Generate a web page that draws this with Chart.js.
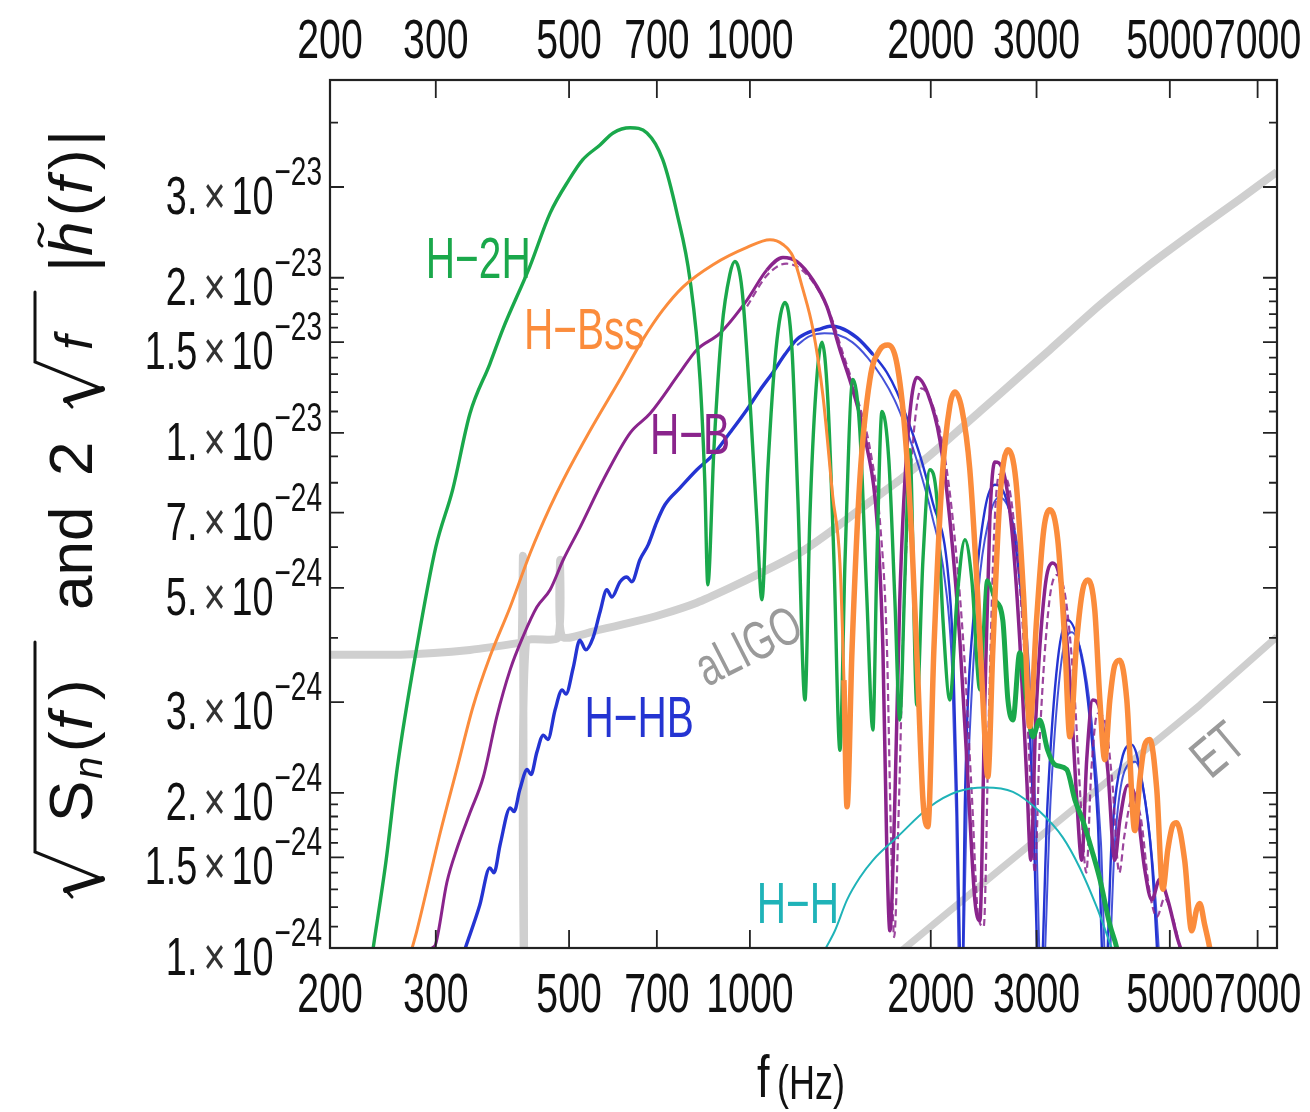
<!DOCTYPE html>
<html>
<head>
<meta charset="utf-8">
<title>GW spectra vs aLIGO / ET</title>
<script src="https://cdn.jsdelivr.net/npm/chart.js@4.4.1/dist/chart.umd.min.js"></script>
<style>
  html, body { margin: 0; padding: 0; background: #fff; }
  #wrap { width: 1310px; height: 1112px; position: relative; }
</style>
</head>
<body>
<div id="wrap"><canvas id="myChart"></canvas></div>
<script>
// axis ticks
var xTicks = [200, 300, 500, 700, 1000, 2000, 3000, 5000, 7000];
var yTicks = [1e-24, 1.5e-24, 2e-24, 3e-24, 5e-24, 7e-24, 1e-23, 1.5e-23, 2e-23, 3e-23];
var yTickMant = ['1.', '1.5', '2.', '3.', '5.', '7.', '1.', '1.5', '2.', '3.'];
var yTickExp = ['\u221224', '\u221224', '\u221224', '\u221224', '\u221224', '\u221224', '\u221223', '\u221223', '\u221223', '\u221223'];
var yMinor = [1.1e-24, 1.2e-24, 1.3e-24, 1.4e-24, 1.6e-24, 1.7e-24, 1.8e-24, 1.9e-24, 4e-24, 6e-24, 8e-24, 9e-24,
              1.1e-23, 1.2e-23, 1.3e-23, 1.4e-23, 1.6e-23, 1.7e-23, 1.8e-23, 1.9e-23, 4e-23];

// [f (Hz), 2 sqrt(f) |h(f)|]
var h2h = [[236,1.0e-24],[248,1.48e-24],[259,2.25e-24],[279,3.84e-24],[300,6.0e-24],[320,7.75e-24],[342,1.09e-23],[369,1.36e-23],[388,1.59e-23],[430,2.10e-23],
  [465,2.67e-23],[500,3.10e-23],[527,3.39e-23],[563,3.62e-23],[592,3.82e-23],[632,3.91e-23],[674,3.82e-23],[716,3.39e-23],[756,2.67e-23],[795,1.98e-23],
  [826,1.27e-23],[841,8.1e-24],[851,5.07e-24],[871,9.27e-24],[898,1.59e-23],[926,2.03e-23],[944,2.15e-23],[970,1.90e-23],[1000,1.16e-23],[1027,6.78e-24],
  [1047,4.74e-24],[1071,8.48e-24],[1105,1.45e-23],[1144,1.79e-23],[1175,1.45e-23],[1202,7.41e-24],[1235,3.03e-24],[1258,6.78e-24],[1288,1.21e-23],[1318,1.50e-23],
  [1348,1.16e-23],[1380,5.67e-24],[1412,2.42e-24],[1440,5.67e-24],[1484,1.27e-23],[1524,1.01e-23],[1566,4.74e-24],[1602,2.65e-24],[1627,5.67e-24],[1659,1.10e-23],
  [1703,8.86e-24],[1743,4.74e-24],[1776,2.77e-24],[1811,5.18e-24],[1846,9.27e-24],[1896,2.96e-24],[1941,5.67e-24],[1993,8.48e-24],[2048,7.41e-24],[2096,4.33e-24],
  [2152,3.03e-24],[2211,4.74e-24],[2280,6.20e-24],[2341,5.18e-24],[2414,3.17e-24],[2480,5.18e-24],[2557,4.74e-24],[2636,4.33e-24],[2688,3.03e-24],[2740,2.77e-24],
  [2813,3.74e-24],[2890,3.03e-24],[2957,2.57e-24],[3037,2.77e-24],[3131,2.42e-24],[3217,2.27e-24],[3368,2.22e-24],[3474,1.94e-24],[3581,1.77e-24],[3707,1.55e-24],
  [3824,1.36e-24],[3973,1.11e-24],[4080,1.0e-24],[4207,8.3e-25]];

var hbss = [[274,1.0e-24],[279,1.08e-24],[305,1.67e-24],[326,2.25e-24],[346,2.94e-24],[369,3.67e-24],[399,4.59e-24],[431,5.85e-24],[465,7.18e-24],[489,8.1e-24],
  [542,1.01e-23],[608,1.27e-23],[664,1.52e-23],[716,1.73e-23],[774,1.92e-23],[868,2.12e-23],[989,2.29e-23],[1080,2.37e-23],[1135,2.32e-23],[1179,2.20e-23],
  [1225,1.90e-23],[1273,1.59e-23],[1323,1.18e-23],[1374,7.51e-24],[1412,5.59e-24],[1434,3.31e-24],[1451,1.88e-24],[1479,3.79e-24],[1524,8.1e-24],[1584,1.27e-23],
  [1646,1.45e-23],[1697,1.48e-23],[1757,1.36e-23],[1811,1.01e-23],[1860,6.2e-24],[1904,3.31e-24],[1941,1.94e-24],[1978,1.72e-24],[2024,3.79e-24],[2088,8.1e-24],
  [2152,1.13e-23],[2194,1.20e-23],[2254,1.11e-23],[2323,8.48e-24],[2396,4.74e-24],[2452,2.77e-24],[2489,2.15e-24],[2537,3.79e-24],[2606,7.41e-24],[2688,9.27e-24],
  [2771,8.1e-24],[2857,4.74e-24],[2923,2.69e-24],[3000,4.33e-24],[3084,6.48e-24],[3158,7.09e-24],[3254,6.2e-24],[3342,3.96e-24],[3409,2.57e-24],[3500,3.96e-24],
  [3581,4.96e-24],[3651,5.18e-24],[3750,4.53e-24],[3824,3.03e-24],[3896,2.32e-24],[3973,3.03e-24],[4049,3.54e-24],[4128,3.62e-24],[4240,3.03e-24],[4372,1.69e-24],
  [4457,2.12e-24],[4542,2.48e-24],[4631,2.54e-24],[4756,2.03e-24],[4867,1.30e-24],[4961,1.55e-24],[5057,1.73e-24],[5133,1.75e-24],[5293,1.48e-24],[5437,1.08e-24],
  [5543,1.19e-24],[5608,1.22e-24],[5714,1.11e-24],[5826,1.0e-24],[5940,8.6e-25]];

var hb = [[296,1.0e-24],[300,1.02e-24],[313,1.34e-24],[326,1.57e-24],[342,1.83e-24],[360,2.15e-24],[379,2.81e-24],[399,3.47e-24],[419,4.02e-24],[442,4.59e-24],
  [465,4.96e-24],[489,5.67e-24],[521,6.54e-24],[570,8.1e-24],[632,1.0e-23],[682,1.09e-23],[765,1.31e-23],[816,1.45e-23],[891,1.56e-23],[989,1.81e-23],
  [1067,2.07e-23],[1135,2.19e-23],[1198,2.15e-23],[1273,1.98e-23],[1343,1.76e-23],[1412,1.45e-23],[1484,1.21e-23],[1566,9.39e-24],[1627,6.78e-24],[1665,3.79e-24],
  [1690,1.55e-24],[1710,1.08e-24],[1743,1.94e-24],[1776,4.74e-24],[1825,9.27e-24],[1896,1.28e-23],[1978,1.19e-23],[2071,9.69e-24],[2152,6.78e-24],[2236,3.96e-24],
  [2306,2.12e-24],[2368,1.24e-24],[2414,1.13e-24],[2461,3.03e-24],[2508,6.78e-24],[2557,8.78e-24],[2636,8.48e-24],[2729,6.48e-24],[2813,3.96e-24],[2890,2.12e-24],
  [2935,1.48e-24],[2991,2.77e-24],[3096,4.96e-24],[3192,5.59e-24],[3304,4.96e-24],[3409,3.31e-24],[3500,1.94e-24],[3567,1.48e-24],[3636,2.32e-24],[3721,3.03e-24],
  [3824,2.90e-24],[3941,2.22e-24],[4049,1.48e-24],[4128,1.77e-24],[4256,2.07e-24],[4389,1.94e-24],[4542,1.42e-24],[4666,1.24e-24],[4811,1.36e-24],[4961,1.24e-24],
  [5153,1.04e-24],[5293,9.5e-25]];
// neighbouring H-B runs (dashed bundle)
var hbAlt = [[989,1.76e-23],[1067,2.02e-23],[1150,2.13e-23],[1215,2.08e-23],[1290,1.92e-23],[1360,1.70e-23],[1430,1.42e-23],[1505,1.18e-23],[1590,9.1e-24],[1650,6.5e-24],
  [1690,3.9e-24],[1718,1.6e-24],[1738,1.05e-24],[1770,1.9e-24],[1805,4.6e-24],[1860,9.0e-24],[1930,1.22e-23],[2010,1.14e-23],[2100,9.3e-24],[2185,6.5e-24],
  [2270,3.8e-24],[2340,2.0e-24],[2400,1.15e-24],[2450,1.1e-24],[2500,2.9e-24],[2550,6.4e-24],[2600,8.3e-24],[2680,8.1e-24],[2770,6.2e-24],[2860,3.8e-24],
  [2935,2.0e-24],[2980,1.4e-24],[3040,2.6e-24],[3150,4.7e-24],[3250,5.3e-24],[3360,4.7e-24],[3470,3.1e-24],[3560,1.85e-24],[3630,1.4e-24],[3700,2.2e-24],
  [3790,2.85e-24],[3900,2.75e-24],[4010,2.1e-24],[4120,1.4e-24],[4200,1.65e-24],[4330,1.95e-24],[4470,1.8e-24],[4620,1.3e-24],[4760,1.15e-24],[4900,1.25e-24],
  [5050,1.15e-24],[5250,9.5e-25]];

var hhb = [[336,1.0e-24],[355,1.21e-24],[369,1.43e-24],[375,1.40e-24],[384,1.59e-24],[399,1.87e-24],[405,1.84e-24],[414,2.03e-24],[426,2.22e-24],[432,2.17e-24],
  [442,2.40e-24],[453,2.59e-24],[461,2.54e-24],[474,2.90e-24],[487,3.17e-24],[494,3.11e-24],[508,3.50e-24],[521,3.96e-24],[533,3.79e-24],[548,4.0e-24],
  [563,4.49e-24],[578,4.96e-24],[589,4.80e-24],[608,5.14e-24],[624,5.25e-24],[636,5.14e-24],[656,5.67e-24],[677,6.06e-24],[700,6.72e-24],[722,7.25e-24],
  [765,7.82e-24],[816,8.48e-24],[868,9.06e-24],[926,1.0e-23],[989,1.11e-23],[1039,1.21e-23],[1092,1.31e-23],[1144,1.42e-23],
  [1198,1.52e-23],[1258,1.57e-23],[1308,1.59e-23],[1359,1.61e-23],[1412,1.60e-23],[1507,1.53e-23],[1602,1.42e-23],[1690,1.31e-23],[1757,1.20e-23],[1825,1.07e-23],
  [1918,9.06e-24],[2016,7.31e-24],[2128,5.59e-24],[2178,3.79e-24],[2211,1.94e-24],[2236,1.0e-24],[2254,7.9e-25],[2280,1.94e-24],[2368,4.74e-24],[2461,7.09e-24],
  [2557,7.93e-24],[2657,7.58e-24],[2761,6.2e-24],[2868,3.96e-24],[2957,1.94e-24],[3037,7.9e-25],[3131,1.94e-24],[3254,3.62e-24],[3381,4.33e-24],[3514,3.96e-24],
  [3651,3.03e-24],[3793,1.77e-24],[3896,7.9e-25],[4002,1.62e-24],[4159,2.32e-24],[4322,2.48e-24],[4490,2.12e-24],[4666,1.48e-24],[4811,7.9e-25]];
// neighbouring H-HB run
var hhbAlt = [[1198,1.48e-23],[1258,1.54e-23],[1330,1.56e-23],[1400,1.55e-23],[1480,1.50e-23],[1570,1.40e-23],[1660,1.28e-23],[1740,1.16e-23],[1820,1.02e-23],[1910,8.6e-24],
  [2010,6.9e-24],[2110,5.2e-24],[2170,3.5e-24],[2205,1.8e-24],[2228,9e-25],[2250,7.9e-25],[2300,2.0e-24],[2400,4.9e-24],[2500,6.8e-24],[2600,7.5e-24],
  [2700,7.1e-24],[2810,5.7e-24],[2910,3.6e-24],[2990,1.8e-24],[3060,7.9e-25],[3170,2.0e-24],[3300,3.6e-24],[3430,4.1e-24],[3570,3.7e-24],[3700,2.8e-24],
  [3840,1.6e-24],[3930,7.9e-25],[4050,1.6e-24],[4200,2.2e-24],[4380,2.3e-24],[4560,1.9e-24],[4720,1.3e-24],[4850,7.9e-25]];

var hh = [[1338,1.0e-24],[1385,1.08e-24],[1451,1.24e-24],[1524,1.37e-24],[1602,1.48e-24],[1757,1.64e-24],[1993,1.88e-24],[2211,2.01e-24],[2461,2.05e-24],
  [2740,2.01e-24],[3037,1.84e-24],[3317,1.64e-24],[3542,1.43e-24],[3779,1.20e-24],[4002,1.0e-24],[4096,9.3e-25]];

// detector noise curves sqrt(Sn)
var aligo = [[200,3.71e-24],[262,3.71e-24],[342,3.79e-24],[414,3.91e-24],[417,3.93e-24],[419,5.74e-24],[421,7.9e-25],[424,3.93e-24],[479,4.0e-24],[483,5.67e-24],
  [487,4.02e-24],[563,4.15e-24],[632,4.28e-24],[708,4.43e-24],[816,4.68e-24],[926,5.0e-24],[1051,5.37e-24],[1211,5.85e-24],[1359,6.42e-24],[1584,7.35e-24],
  [1776,8.1e-24],[2071,9.39e-24],[2414,1.10e-23],[2606,1.19e-23],[3158,1.45e-23],[3824,1.77e-23],[4631,2.12e-23],[5608,2.5e-23],[6536,2.84e-23],[7540,3.21e-23]];
var et = [[1710,9.5e-25],[1811,1.0e-24],[2606,1.42e-24],[3824,2.05e-24],[5608,2.96e-24],[7540,4.02e-24]];

var GREEN = '#1aa84b', ORANGE = '#fb8c3c', PURPLE = '#8a248c', BLUE = '#2434d2', CYAN = '#1fb3b8', GRAY = '#cfcfcf';
var FONT = '"Liberation Sans", Arial, Helvetica, sans-serif';
var SX = 0.7;

var notes = [
  {text: 'H\u22122H', f: 353, h: 2.19e-23, color: GREEN},
  {text: 'H\u2212Bss', f: 530, h: 1.60e-23, color: ORANGE},
  {text: 'H\u2212B', f: 795, h: 1.0e-23, color: PURPLE},
  {text: 'H\u2212HB', f: 654, h: 2.82e-24, color: BLUE},
  {text: 'H\u2212H', f: 1202, h: 1.23e-24, color: CYAN},
  {text: 'aLIGO', f: 992, h: 3.88e-24, color: '#9a9a9a', angle: -27, size: 54},
  {text: 'ET', f: 5984, h: 2.44e-24, color: '#9a9a9a', angle: -40, size: 56}
];

function pts(arr) {
  return arr.map(function (p) { return {x: p[0], y: p[1]}; });
}

function squeezed(ctx, str, x, y, font, align, color, sx) {
  ctx.save();
  ctx.font = font;
  ctx.fillStyle = color || '#111';
  ctx.textAlign = align || 'left';
  ctx.textBaseline = 'alphabetic';
  ctx.translate(x, y);
  ctx.scale(sx || SX, 1);
  ctx.fillText(str, 0, 0);
  ctx.restore();
}
function squeezedWidth(ctx, str, font, sx) {
  ctx.save();
  ctx.font = font;
  var w = ctx.measureText(str).width;
  ctx.restore();
  return w * (sx || SX);
}

function drawYTitle(ctx) {
  var R = '62px ' + FONT, I = 'italic 62px ' + FONT;
  ctx.save();
  ctx.translate(92, 0);
  ctx.rotate(-Math.PI / 2);
  ctx.fillStyle = '#111';
  ctx.strokeStyle = '#111';
  ctx.textBaseline = 'alphabetic';
  ctx.textAlign = 'left';
  function run(str, y, font, dv) { ctx.font = font; ctx.fillText(str, -y, dv || 0); }
  function radical(y0, yEnd) {
    ctx.lineCap = 'round';
    ctx.beginPath(); ctx.lineWidth = 3; ctx.moveTo(-y0, -20); ctx.lineTo(-(y0 - 7), -26); ctx.stroke();
    ctx.beginPath(); ctx.lineWidth = 6; ctx.moveTo(-(y0 - 7), -26); ctx.lineTo(-(y0 - 18), 10); ctx.stroke();
    ctx.beginPath(); ctx.lineWidth = 3; ctx.moveTo(-(y0 - 18), 10); ctx.lineTo(-(y0 - 45), -57); ctx.lineTo(-yEnd, -57); ctx.stroke();
  }
  radical(897, 642);
  run('S', 822, R);
  run('n', 779, 'italic 40px ' + FONT, 10);
  run('(', 752, R); run('f', 730, I); run(')', 700, R);
  run('and', 610, R); run('2', 476, R);
  radical(407, 292);
  run('f', 350, 'italic 52px ' + FONT);
  run('|', 272, R); run('h', 256, I);
  ctx.beginPath(); ctx.lineWidth = 3;
  ctx.moveTo(-246, -50); ctx.bezierCurveTo(-240, -60, -232, -42, -224, -53); ctx.stroke();
  run('(', 216, R); run('f', 194, I); run(')', 170, R); run('|', 146, R);
  ctx.restore();
}

var framePlugin = {
  id: 'frame',
  afterDatasetsDraw: function (chart) {
    var ctx = chart.ctx, a = chart.chartArea, xs = chart.scales.x, ys = chart.scales.y;
    ctx.save();
    ctx.strokeStyle = '#222';
    ctx.lineWidth = 2.2;
    ctx.strokeRect(a.left, a.top, a.right - a.left, a.bottom - a.top);
    ctx.lineWidth = 1.8;
    ctx.beginPath();
    xTicks.forEach(function (v) {
      var px = xs.getPixelForValue(v);
      ctx.moveTo(px, a.bottom); ctx.lineTo(px, a.bottom - 18);
      ctx.moveTo(px, a.top); ctx.lineTo(px, a.top + 18);
    });
    yTicks.forEach(function (v) {
      var py = ys.getPixelForValue(v);
      ctx.moveTo(a.left, py); ctx.lineTo(a.left + 14, py);
      ctx.moveTo(a.right, py); ctx.lineTo(a.right - 14, py);
    });
    yMinor.forEach(function (v) {
      var py = ys.getPixelForValue(v);
      ctx.moveTo(a.left, py); ctx.lineTo(a.left + 8, py);
      ctx.moveTo(a.right, py); ctx.lineTo(a.right - 8, py);
    });
    ctx.stroke();

    // x tick labels, top and bottom
    var tf = '56px ' + FONT;
    xTicks.forEach(function (v) {
      var px = xs.getPixelForValue(v);
      squeezed(ctx, String(v), px, 58, tf, 'center');
      squeezed(ctx, String(v), px, 1012, tf, 'center');
    });

    // y tick labels  m.x10^e
    var bf = '54px ' + FONT, sf = '40px ' + FONT;
    yTicks.forEach(function (v, i) {
      var py = ys.getPixelForValue(v);
      var right = 322;
      var sw = squeezedWidth(ctx, yTickExp[i], sf);
      squeezed(ctx, yTickExp[i], right - sw, py - 2, sf, 'left');
      var r = right - sw - 1;
      squeezed(ctx, '10', r, py + 27, bf, 'right');
      r -= squeezedWidth(ctx, '10', bf) + 6;
      squeezed(ctx, '\u00d7', r, py + 27, bf, 'right', '#333');
      r -= squeezedWidth(ctx, '\u00d7', bf) + 6;
      squeezed(ctx, yTickMant[i], r, py + 27, bf, 'right');
    });

    // curve labels
    notes.forEach(function (n) {
      var size = n.size || 58;
      ctx.save();
      ctx.translate(xs.getPixelForValue(n.f), ys.getPixelForValue(n.h));
      if (n.angle) ctx.rotate(n.angle * Math.PI / 180);
      ctx.scale(SX, 1);
      ctx.font = size + 'px ' + FONT;
      ctx.fillStyle = n.color;
      ctx.textAlign = 'center';
      ctx.textBaseline = 'alphabetic';
      ctx.fillText(n.text, 0, size * 0.36);
      ctx.restore();
    });

    // axis titles
    squeezed(ctx, 'f', 757, 1097, '60px ' + FONT, 'left', '#111', 0.75);
    squeezed(ctx, '(Hz)', 777, 1099, '48px ' + FONT, 'left', '#111', 0.75);
    drawYTitle(ctx);
    ctx.restore();
  }
};

function wideAbove(limit, thin, thick) {
  return function (c) { return c.p0.parsed.x >= limit ? thick : thin; };
}

var ctx = document.getElementById('myChart').getContext('2d');
var myChart = new Chart(ctx, {
  type: 'line',
  data: {
    datasets: [
      {label: 'H-Bss', data: pts(hbss), borderColor: ORANGE, borderWidth: 3, order: 1,
       segment: {borderWidth: wideAbove(1420, 3, 5.5)}},
      {label: 'H-2H', data: pts(h2h), borderColor: GREEN, borderWidth: 3.4, order: 2,
       segment: {borderWidth: wideAbove(2500, 3.4, 5)}},
      {label: 'H-H', data: pts(hh), borderColor: CYAN, borderWidth: 2, order: 3},
      {label: 'H-B', data: pts(hb), borderColor: PURPLE, borderWidth: 3, order: 4,
       segment: {borderWidth: wideAbove(1000, 3, 3.5)}},
      {label: 'H-B (2)', data: pts(hbAlt), borderColor: 'rgba(138,36,140,0.85)', borderWidth: 2.2, order: 4.5,
       borderDash: [7, 4]},
      {label: 'H-HB', data: pts(hhb), borderColor: BLUE, borderWidth: 3.4, order: 5,
       segment: {borderWidth: wideAbove(1600, 3.4, 2.4)}},
      {label: 'H-HB (2)', data: pts(hhbAlt), borderColor: 'rgba(36,52,210,0.85)', borderWidth: 2, order: 5.5},
      {label: 'aLIGO', data: pts(aligo), borderColor: GRAY, borderWidth: 8, order: 8,
       borderJoinStyle: 'round', cubicInterpolationMode: 'default', tension: 0.2},
      {label: 'ET', data: pts(et), borderColor: GRAY, borderWidth: 7, order: 9,
       cubicInterpolationMode: 'default', tension: 0}
    ]
  },
  options: {
    responsive: true,
    maintainAspectRatio: false,
    animation: false,
    layout: {padding: {left: 330, top: 80, right: 33, bottom: 164}},
    datasets: {line: {clip: 0, fill: false, pointRadius: 0, borderJoinStyle: 'round'}},
    elements: {line: {cubicInterpolationMode: 'monotone'}, point: {radius: 0}},
    plugins: {legend: {display: false}, tooltip: {enabled: false}},
    scales: {
      x: {type: 'logarithmic', min: 200, max: 7540, display: false},
      y: {type: 'logarithmic', min: 1e-24, max: 4.84e-23, display: false}
    }
  },
  plugins: [framePlugin]
});
</script>
</body>
</html>
